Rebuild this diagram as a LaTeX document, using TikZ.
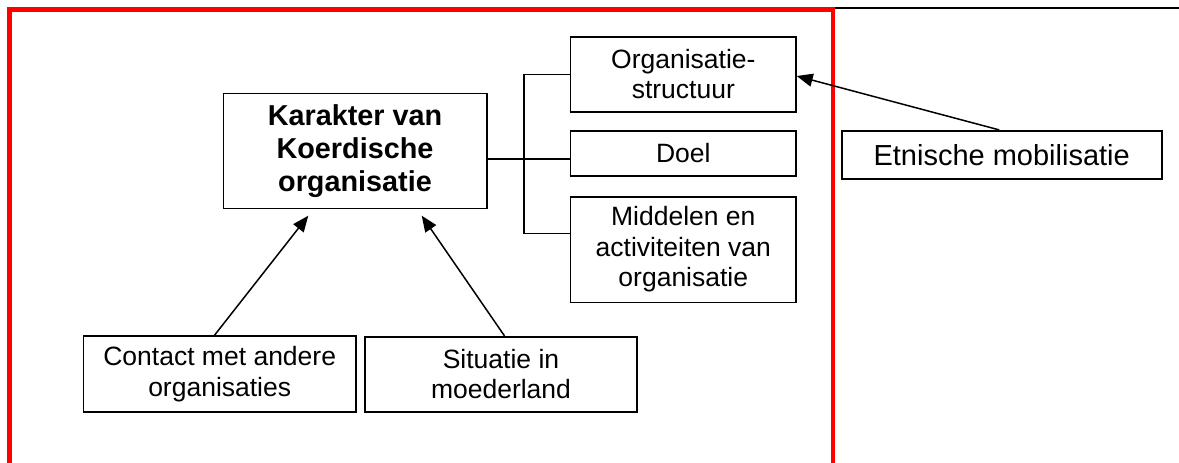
\documentclass[tikz,border=0pt]{standalone}
\usepackage{fontspec}
\setmainfont{Liberation Sans}
\usetikzlibrary{arrows.meta,calc}
\begin{document}
\begin{tikzpicture}[x=1pt,y=-1pt,
  box/.style={draw=black,line width=1.6pt,inner sep=0pt,align=center,
    font=\fontsize{26.5}{30.5}\selectfont},
  bigtext/.style={font=\fontsize{29}{33}\selectfont},
  boldtext/.style={font=\bfseries\fontsize{28.8}{33}\selectfont},
  arr/.style={line width=1.5pt,-{Triangle[length=16pt,width=13pt]}},
  conn/.style={line width=1.5pt},
  frame/.style={red,line width=4.4pt}]
\useasboundingbox (0,0) rectangle (1179,463);
\fill[white] (0,0) rectangle (1179,463);
% red frame and top rule
\draw[frame] (9.5,463) -- (9.5,9.5) -- (833,9.5) -- (833,463);
\draw[line width=2pt] (835,7.5) -- (1179,7.5);
% nodes
\node[box,boldtext,minimum width=263.4pt,minimum height=115pt] (main) at (355,150.8)
  {Karakter van\\Koerdische\\organisatie};
\node[box,minimum width=225.3pt,minimum height=75pt] (org) at (683.3,74.2)
  {Organisatie-\\structuur};
\node[box,minimum width=225.3pt,minimum height=45pt] (doel) at (683.3,153.2) {Doel};
\node[box,minimum width=225.3pt,minimum height=105.6pt] (mid) at (683.3,249.5)
  {Middelen en\\activiteiten van\\organisatie};
\node[box,minimum width=272.7pt,minimum height=76pt] (contact) at (219.7,374)
  {Contact met andere\\organisaties};
\node[box,minimum width=272pt,minimum height=75pt] (sit) at (501,374.2)
  {Situatie in\\moederland};
\node[box,bigtext,minimum width=320pt,minimum height=48pt] (etn) at (1001.7,154.7)
  {Etnische mobilisatie};
% bracket connectors
\coordinate (j1) at (524,74.3);
\coordinate (jm) at (524,159);
\coordinate (j3) at (524,233.3);
\draw[conn] (org.west |- j1) -- (j1) -- (j3) -- (j3 -| mid.west);
\draw[conn] (jm -| main.east) -- (jm -| doel.west);
% arrows
\coordinate (t1) at (308.3,215.7);
\coordinate (t2) at (421.7,215.7);
\coordinate (t3) at (796.7,76);
\draw[arr] ($(contact.north west)+(132,0)$) -- (t1);
\draw[arr] ($(sit.north west)+(140.3,0)$) -- (t2);
\draw[arr] ($(etn.north west)+(158.3,0)$) -- (t3);
\end{tikzpicture}
\end{document}
